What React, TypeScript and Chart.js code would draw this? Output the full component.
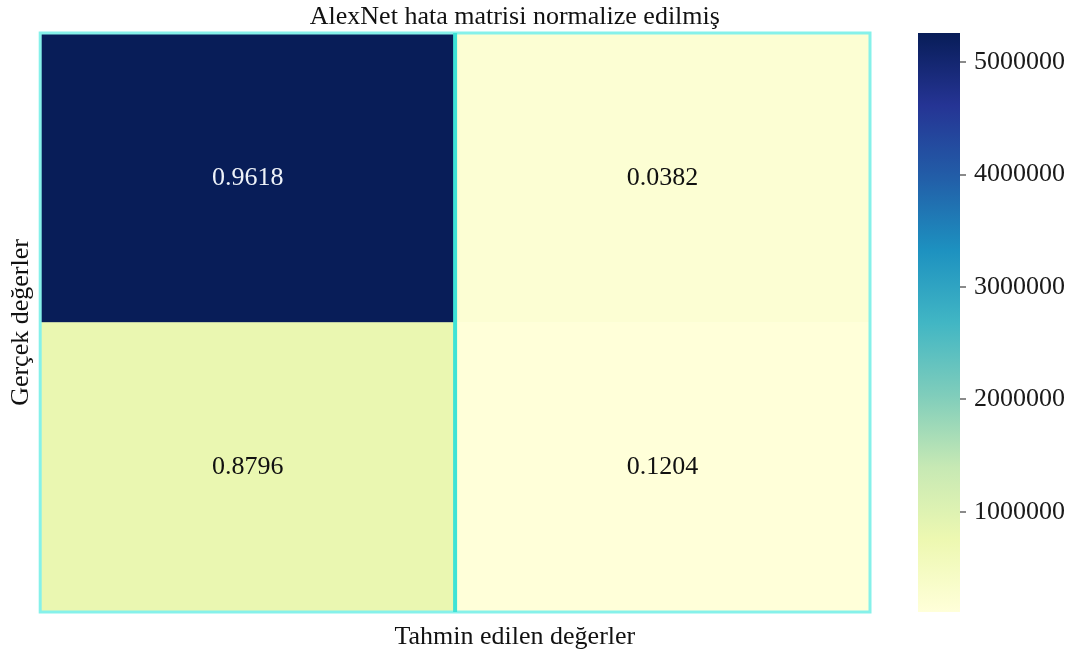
import React, { useEffect, useRef } from "react";
import { Chart, registerables } from "chart.js";

Chart.register(...registerables);

// Class names along each axis
const predictedClasses = ["0", "1"];
const actualClasses = ["0", "1"];

// Raw confusion counts (rows: actual class, columns: predicted class)
const countsRow0 = [5260000, 208920];
const countsRow1 = [800000, 109504];

// Colour bar tick values
const colorbarTicks = [1000000, 2000000, 3000000, 4000000, 5000000];

const titleText = "AlexNet hata matrisi normalize edilmiş";
const xTitleText = "Tahmin edilen değerler";
const yTitleText = "Gerçek değerler";

const SERIF = '"Liberation Serif", "Times New Roman", "DejaVu Serif", serif';
const FONT_SIZE = 26;
// Title and x-axis caption are centred a little right of the matrix centre,
// over the matrix plus colour bar block.
const CAPTION_CENTER = 0.572;

// YlGnBu colour map stops
const YLGNBU = [
  "#ffffd9", "#edf8b1", "#c7e9b4", "#7fcdbb", "#41b6c4",
  "#1d91c0", "#225ea8", "#253494", "#081d58",
];

const allCounts = [...countsRow0, ...countsRow1];
const vmin = Math.min(...allCounts);
const vmax = Math.max(...allCounts);

function hexToRgb(h: string) {
  const n = parseInt(h.slice(1), 16);
  return [(n >> 16) & 255, (n >> 8) & 255, n & 255];
}

function colorFor(value: number) {
  let t = (value - vmin) / (vmax - vmin);
  t = Math.max(0, Math.min(1, t));
  const pos = t * (YLGNBU.length - 1);
  const i = Math.min(Math.floor(pos), YLGNBU.length - 2);
  const f = pos - i;
  const a = hexToRgb(YLGNBU[i]);
  const b = hexToRgb(YLGNBU[i + 1]);
  const c = a.map((v, k) => Math.round(v + (b[k] - v) * f));
  return `rgb(${c[0]},${c[1]},${c[2]})`;
}

function rowRates(row: number[]) {
  const sum = row.reduce((s, v) => s + v, 0);
  return row.map((v) => v / sum);
}

const rows = [countsRow0, countsRow1];
const rates = rows.map(rowRates);

// Writes the normalised rate in the middle of every cell
const cellLabelPlugin = {
  id: "cellLabels",
  afterDatasetsDraw(chart: any) {
    const ctx = chart.ctx;
    ctx.save();
    ctx.font = `${FONT_SIZE}px ${SERIF}`;
    ctx.textAlign = "center";
    ctx.textBaseline = "middle";
    chart.data.datasets.forEach((ds: any, di: number) => {
      const meta = chart.getDatasetMeta(di);
      const rowIndex = ds.rowIndex;
      meta.data.forEach((el: any, ci: number) => {
        const count = rows[rowIndex][ci];
        const t = (count - vmin) / (vmax - vmin);
        ctx.fillStyle = t > 0.5 ? "#eef2f8" : "#111111";
        const cy = (el.y + el.base) / 2;
        ctx.fillText(rates[rowIndex][ci].toFixed(4), el.x, cy);
      });
    });
    ctx.restore();
  },
};

// Cyan frame round the matrix and the line between the two columns
const framePlugin = {
  id: "frame",
  afterDatasetsDraw(chart: any) {
    const { ctx, chartArea } = chart;
    const xs = chart.scales.x;
    ctx.save();
    ctx.strokeStyle = "#86f1ea";
    ctx.lineWidth = 3;
    ctx.strokeRect(chartArea.left, chartArea.top, chartArea.right - chartArea.left, chartArea.bottom - chartArea.top);
    const xMid = xs.getPixelForValue(0.5);
    ctx.strokeStyle = "#3fe3d6";
    ctx.lineWidth = 4;
    ctx.beginPath();
    ctx.moveTo(xMid, chartArea.top);
    ctx.lineTo(xMid, chartArea.bottom);
    ctx.stroke();
    ctx.restore();
  },
};

// Figure title above and x caption below the matrix
const captionPlugin = {
  id: "captions",
  afterDraw(chart: any) {
    const { ctx, chartArea } = chart;
    const cx = chartArea.left + (chartArea.right - chartArea.left) * CAPTION_CENTER;
    ctx.save();
    ctx.font = `${FONT_SIZE}px ${SERIF}`;
    ctx.fillStyle = "#111111";
    ctx.textAlign = "center";
    ctx.textBaseline = "middle";
    ctx.fillText(titleText, cx, chartArea.top - 16);
    ctx.fillText(xTitleText, cx, chartArea.bottom + 25);
    ctx.restore();
  },
};

function Heatmap() {
  const ref = useRef<HTMLCanvasElement | null>(null);
  useEffect(() => {
    if (!ref.current) return;
    const datasets = [1, 0].map((rowIndex) => ({
      label: actualClasses[rowIndex],
      rowIndex,
      data: predictedClasses.map(() => 1),
      backgroundColor: rows[rowIndex].map(colorFor),
      borderWidth: 0,
      barPercentage: 1,
      categoryPercentage: 1,
    }));
    const chart = new Chart(ref.current, {
      type: "bar",
      data: { labels: predictedClasses, datasets: datasets as any },
      options: {
        responsive: false,
        animation: false,
        layout: { padding: { left: 2, right: 10, top: 33, bottom: 48 } },
        plugins: {
          legend: { display: false },
          tooltip: { enabled: false },
          title: { display: false, text: titleText },
        },
        scales: {
          x: {
            stacked: true,
            grid: { display: false, drawTicks: false },
            border: { display: false },
            ticks: { display: false },
            title: { display: false, text: xTitleText },
          },
          y: {
            stacked: true,
            min: 0,
            max: 2,
            grid: { display: false, drawTicks: false },
            border: { display: false },
            ticks: { display: false },
            title: {
              display: true,
              text: yTitleText,
              color: "#111111",
              font: { family: SERIF, size: FONT_SIZE },
              padding: { top: 4, bottom: 3 },
            },
          },
        },
      } as any,
      plugins: [cellLabelPlugin, framePlugin, captionPlugin],
    });
    return () => chart.destroy();
  }, []);
  return (
    <canvas
      ref={ref}
      width={880}
      height={660}
      style={{ position: "absolute", left: 0, top: 0, display: "block" }}
    />
  );
}

function ColorBar() {
  const ref = useRef<HTMLCanvasElement | null>(null);
  useEffect(() => {
    if (!ref.current) return;
    const chart = new Chart(ref.current, {
      type: "bar",
      data: {
        labels: ["scale"],
        datasets: [
          {
            data: [[vmin, vmax]] as any,
            borderWidth: 0,
            barPercentage: 1,
            categoryPercentage: 1,
            backgroundColor: (c: any) => {
              const area = c.chart.chartArea;
              if (!area) return YLGNBU[4];
              const g = c.chart.ctx.createLinearGradient(0, area.bottom, 0, area.top);
              YLGNBU.forEach((col, i) => g.addColorStop(i / (YLGNBU.length - 1), col));
              return g;
            },
          },
        ],
      },
      options: {
        responsive: false,
        animation: false,
        layout: { padding: { left: 18, right: 0, top: 33, bottom: 48 } },
        plugins: { legend: { display: false }, tooltip: { enabled: false } },
        scales: {
          x: { display: false },
          y: {
            position: "right",
            min: vmin,
            max: vmax,
            afterBuildTicks: (s: any) => {
              s.ticks = colorbarTicks.map((v) => ({ value: v }));
            },
            afterFit: (s: any) => {
              s.width = 119;
            },
            grid: { drawOnChartArea: false, drawTicks: true, tickLength: 6, color: "#8a8a8a", lineWidth: 2 },
            border: { display: false },
            ticks: {
              color: "#1a1a1a",
              padding: 8,
              font: { family: SERIF, size: FONT_SIZE },
              callback: (v: any) => String(v),
            },
          },
        },
      } as any,
    });
    return () => chart.destroy();
  }, []);
  return (
    <canvas
      ref={ref}
      width={179}
      height={660}
      style={{ position: "absolute", left: 900, top: 0, display: "block" }}
    />
  );
}

export default function App() {
  return (
    <div
      style={{
        position: "fixed",
        left: 0,
        top: 0,
        width: 1079,
        height: 660,
        background: "#ffffff",
        overflow: "hidden",
      }}
    >
      <Heatmap />
      <ColorBar />
    </div>
  );
}
